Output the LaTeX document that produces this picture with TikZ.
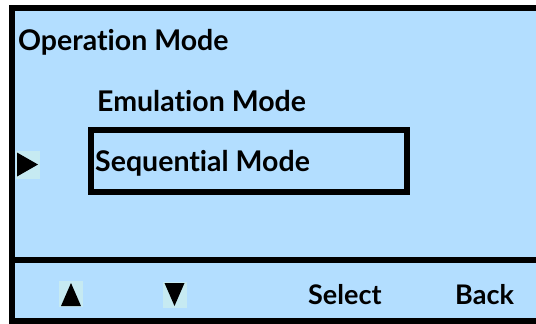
\documentclass[tikz,border=0pt]{standalone}
\usepackage{fontspec}
\setmainfont{Lato}[Ligatures=NoCommon]
\usetikzlibrary{calc}

\definecolor{lcdblue}{RGB}{179,222,255}
\definecolor{iconbg}{RGB}{198,234,242}

\begin{document}
\begin{tikzpicture}[x=1pt, y=-1pt]
    \tikzstyle{label} = [anchor=base west, inner sep=0pt,
    font=\fontsize{28.5}{32}\selectfont\bfseries]
    \tikzstyle{keylabel} = [label, font=\fontsize{27}{30}\selectfont\bfseries]
    \tikzstyle{frame} = [draw, line width=6pt]
    \tikzstyle{selbox} = [draw, rectangle, line width=6pt,
    minimum width=316pt, minimum height=62pt]
    \tikzstyle{iconbox} = [rectangle, fill=iconbg, inner sep=0pt,
    minimum width=24pt, minimum height=26pt]

    \useasboundingbox (0,0) rectangle (536,324);
    \fill [white] (0,0) rectangle (536,324);

    % screen and soft key bar
    \fill [lcdblue] (11.5,8) rectangle (560,321);
    \draw [frame] (560,8) -- (11.5,8) -- (11.5,321) -- (560,321);
    \draw [frame] (11.5,260) -- (560,260);

    % menu
    \node [label] (title) at (18,50) {Operation Mode};
    \node [label] (emulation) at (97,111) {Emulation Mode};
    \node [selbox] (selection) at (249,161) {};
    \node [label] (sequential) at (95,171) {Sequential Mode};
    \node [iconbox, minimum height=28pt] (cursor) at (28,164.5) {};
    \fill ($(cursor)+(-11,-12)$) -- ($(cursor)+(-11,12)$) -- ($(cursor)+(10,0)$) -- cycle;

    % soft keys
    \node [iconbox] (up) at (71,294) {};
    \fill ($(up)+(-10,12)$) -- ($(up)+(10,12)$) -- ($(up)+(0,-11)$) -- cycle;
    \node [iconbox] (down) at (174.5,295) {};
    \fill ($(down)+(-10,-12)$) -- ($(down)+(10,-12)$) -- ($(down)+(0,11)$) -- cycle;
    \node [keylabel] (select) at (308,304) {Select};
    \node [keylabel] (back) at (455,304) {Back};
\end{tikzpicture}
\end{document}
